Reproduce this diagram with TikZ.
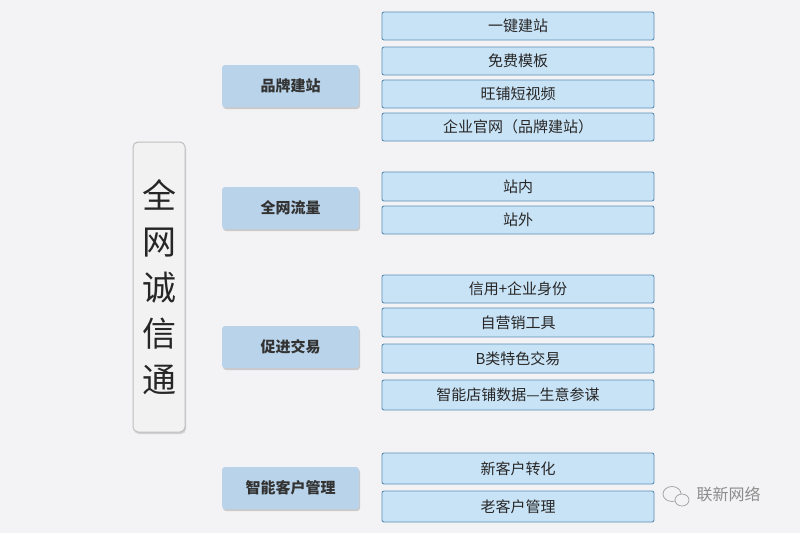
\documentclass[tikz,border=0pt]{standalone}
\usepackage{fontspec}
\newfontfamily\cjk{Noto Sans CJK SC}
\newfontfamily\cjkb{Noto Sans CJK SC Bold}
\usetikzlibrary{shadows}
\definecolor{bg}{HTML}{F3F3F5}
\definecolor{lf}{HTML}{C9E3F6}
\definecolor{lb}{HTML}{5C8FB5}
\definecolor{mf}{HTML}{B9D4EA}
\tikzset{x=1pt,y=-1pt,
 item/.style={draw=lb,line width=0.9pt,fill=lf,rounded corners=2pt},
 cat/.style={fill=mf,rounded corners=3pt,drop shadow={shadow xshift=1pt,shadow yshift=-2pt,opacity=0.35}},
 itxt/.style={font=\cjk\fontsize{15}{15}\selectfont,text=black!85},
 ctxt/.style={font=\cjk\bfseries\fontsize{15}{15}\selectfont,text=black!80}}
\begin{document}
\begin{tikzpicture}
\fill[bg] (0,0) rectangle (800,533);
\useasboundingbox (0,0) rectangle (800,533);
% big box
\draw[fill=black!5,draw=black!25,line width=1pt,rounded corners=5pt,drop shadow={shadow xshift=1pt,shadow yshift=-2pt,opacity=0.3}] (133,142) rectangle (185,432);
\node[font=\cjk\fontsize{34}{46}\selectfont,align=center,text=black!85] (main) at (159,287) {全\\网\\诚\\信\\通};
% categories
\foreach \n/\y/\t in {c1/65/品牌建站,c2/187/全网流量,c3/326/促进交易,c4/467/智能客户管理}{
  \fill[cat] (222,\y) rectangle (359,\y+42);
  \node[ctxt] (\n) at (290.5,\y+21) {\t};
}
% items
\foreach \n/\a/\b/\t in {i1/12/40/一键建站,i2/47/75/免费模板,i3/80/108/旺铺短视频,i4/113/141/企业官网（品牌建站）,
  i5/172/201/站内,i6/206/234/站外,
  i7/275/303/信用+企业身份,i8/308/337/自营销工具,i9/344/373/B类特色交易,i10/380/410/智能店铺数据—生意参谋,
  i11/453/484/新客户转化,i12/491/522/老客户管理}{
  \draw[item] (382,\a) rectangle (654,\b);
  \node[itxt] (\n) at (518,{(\a+\b)/2}) {\t};
}
% watermark
\draw[black!35,line width=0.8pt] (672,494) ellipse (9 and 7.5);
\draw[black!35,line width=0.8pt,fill=bg] (682,500) ellipse (7 and 6);
\node[font=\cjk\fontsize{16}{16}\selectfont,text=black!45,anchor=west] (wm) at (693,494) {联新网络};
\end{tikzpicture}
\end{document}
